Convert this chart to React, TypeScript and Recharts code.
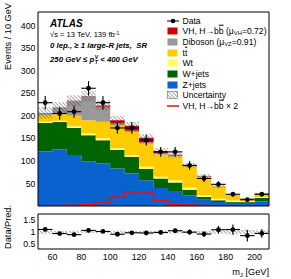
import { ComposedChart, Area, Line, Scatter, ErrorBar, XAxis, YAxis } from "recharts";
import type { ReactNode } from "react";

// binning in m_J [GeV]
const BIN_EDGES = [50, 60, 70, 80, 90, 100, 110, 120, 130, 140, 150, 160, 170, 180, 190, 200, 210];
const BIN_CENTERS = [55, 65, 75, 85, 95, 105, 115, 125, 135, 145, 155, 165, 175, 185, 195, 205];

// stacked backgrounds, events / bin
const ZJETS = [121, 126, 113, 99, 94, 83, 72, 57, 40, 33, 24, 14, 9, 7, 7, 10];
const WJETS = [63, 60, 60, 58, 52, 41, 37, 25, 21, 19, 12, 6, 4, 2, 2, 8];
const WT = [3, 3, 4, 4, 4, 4, 4, 5, 4, 5, 5, 4, 3, 3, 2, 2];
const TTBAR = [14, 15, 23, 29, 37, 50, 51, 51, 49, 53, 47, 41, 27, 11, 5, 7];
const DIBOSON = [5, 14, 33, 53, 33, 5, 3, 3, 3, 2, 1.5, 1, 0.5, 0.3, 0.2, 0.3];
const VH = [0.2, 0.4, 0.5, 1, 3, 7, 11, 10.5, 4.7, 1.5, 0.7, 0.4, 0.2, 0.2, 0.2, 0.2];
const VH_X2 = [0.5, 1, 1.5, 3, 9, 20, 31, 29, 13, 4, 2, 1, 0.5, 0.5, 0.5, 0.5];
const SYST = [13, 12, 12, 12, 11, 10, 9, 8, 7, 6, 5, 4, 3, 2, 1.5, 2];

const DATA = [229, 205, 209, 261, 229, 173, 173, 146, 120, 120, 90, 61, 48, 26, 14, 26];
const DATA_ERR = [15, 14, 14, 16, 15, 13, 13, 12, 11, 11, 9.5, 8, 7, 5, 4, 5];

const X_TICKS = [60, 80, 100, 120, 140, 160, 180, 200];
const Y_TICKS = [50, 100, 150, 200, 250, 300, 350, 400];
const RATIO_TICKS = [0.5, 1, 1.5];

const X_DOMAIN: [number, number] = [50, 210];
const Y_DOMAIN: [number, number] = [0, 430];
const R_DOMAIN: [number, number] = [0.3, 1.75];

const C_Z = "#0a62d0";
const C_W = "#006400";
const C_WT = "#ffff66";
const C_TT = "#ffcc00";
const C_DB = "#999999";
const C_VH = "#d00000";
const C_VH2 = "#e3101a";
const FONT = '"Liberation Sans", Arial, Helvetica, sans-serif';

function steps(from: number, to: number, step: number) {
  const out: number[] = [];
  for (let v = from; v <= to + 1e-9; v += step) out.push(Math.round(v * 1000) / 1000);
  return out;
}
const X_MINOR = steps(50, 210, 5);
const Y_MAJOR = steps(0, 400, 50);
const Y_MINOR = steps(0, 430, 10);
const R_MINOR = steps(0.3, 1.7, 0.1);

const TOTAL = BIN_CENTERS.map(
  (_, k) => ZJETS[k] + WJETS[k] + WT[k] + TTBAR[k] + DIBOSON[k] + VH[k]
);

// step rows at bin edges, last bin repeated so the step reaches 210
const histRows = BIN_EDGES.map((x, i) => {
  const k = Math.min(i, BIN_CENTERS.length - 1);
  return {
    x,
    zjets: ZJETS[k],
    wjets: WJETS[k],
    wt: WT[k],
    ttbar: TTBAR[k],
    diboson: DIBOSON[k],
    vh: VH[k],
    vh2: VH_X2[k],
    band: [TOTAL[k] - SYST[k], TOTAL[k] + SYST[k]],
    ratioBand: [1 - SYST[k] / TOTAL[k], 1 + SYST[k] / TOTAL[k]],
  };
});

const dataPoints = BIN_CENTERS.map((x, k) => ({
  x,
  y: DATA[k],
  err: DATA_ERR[k],
  xerr: (BIN_EDGES[k + 1] - BIN_EDGES[k]) / 2,
  ratio: DATA[k] / TOTAL[k],
  ratioErr: DATA_ERR[k] / TOTAL[k],
}));

const black = { stroke: "#000", strokeWidth: 1 };

// inward ticks on all four sides plus the frame
function frameAxes(yDomain: [number, number], yMajor: number[], yMinor: number[]) {
  const common = { allowDataOverflow: true, interval: 0 as const, tick: false, mirror: true, tickLine: black };
  return [
    <XAxis key="xb" xAxisId="xb" type="number" domain={X_DOMAIN} ticks={X_TICKS} orientation="bottom" tickSize={5} axisLine={black} {...common} />,
    <XAxis key="xbm" xAxisId="xbm" type="number" domain={X_DOMAIN} ticks={X_MINOR} orientation="bottom" tickSize={2.5} axisLine={false} {...common} />,
    <XAxis key="xt" xAxisId="xt" type="number" domain={X_DOMAIN} ticks={X_TICKS} orientation="top" tickSize={5} axisLine={black} {...common} />,
    <XAxis key="xtm" xAxisId="xtm" type="number" domain={X_DOMAIN} ticks={X_MINOR} orientation="top" tickSize={2.5} axisLine={false} {...common} />,
    <YAxis key="yl" yAxisId="yl" type="number" domain={yDomain} ticks={yMajor} orientation="left" tickSize={5} axisLine={black} {...common} />,
    <YAxis key="ylm" yAxisId="ylm" type="number" domain={yDomain} ticks={yMinor} orientation="left" tickSize={2.5} axisLine={false} {...common} />,
    <YAxis key="yr" yAxisId="yr" type="number" domain={yDomain} ticks={yMajor} orientation="right" tickSize={5} axisLine={black} {...common} />,
    <YAxis key="yrm" yAxisId="yrm" type="number" domain={yDomain} ticks={yMinor} orientation="right" tickSize={2.5} axisLine={false} {...common} />,
  ];
}

function hatch(id: string) {
  return (
    <defs>
      <pattern id={id} patternUnits="userSpaceOnUse" width={2.6} height={2.6} patternTransform="rotate(-45)">
        <line x1={0} y1={0} x2={0} y2={2.6} stroke="#444" strokeWidth={0.9} />
      </pattern>
    </defs>
  );
}

const dot = (p: any) => <circle cx={p.cx} cy={p.cy} r={2.4} fill="#000" />;
const tickFont = { fontSize: 8.8, fill: "#000", fontFamily: FONT };

function Txt({ x, y, size, children, style }: { x: number; y: number; size: number; children: ReactNode; style?: any }) {
  return (
    <div
      style={{
        position: "absolute",
        left: x,
        top: y,
        fontSize: size,
        lineHeight: 1,
        whiteSpace: "nowrap",
        transform: "translateY(-50%)",
        ...style,
      }}
    >
      {children}
    </div>
  );
}

function VTitle({ xc, top, size, children }: { xc: number; top: number; size: number; children: ReactNode }) {
  return (
    <div
      style={{
        position: "absolute",
        right: 291 - xc,
        top,
        fontSize: size,
        lineHeight: 1,
        whiteSpace: "nowrap",
        transformOrigin: "100% 50%",
        transform: "translateY(-50%) rotate(-90deg)",
      }}
    >
      {children}
    </div>
  );
}

const sub = (s: string) => (
  <sub style={{ fontSize: "0.68em", verticalAlign: "-0.3em", lineHeight: 0 }}>{s}</sub>
);
const sup = (s: string) => (
  <sup style={{ fontSize: "0.68em", verticalAlign: "0.45em", lineHeight: 0 }}>{s}</sup>
);
const bar = (s: string) => <span style={{ textDecoration: "overline" }}>{s}</span>;

type Swatch = "data" | "hatch" | "line" | string;
const LEGEND: { swatch: Swatch; label: ReactNode }[] = [
  { swatch: "data", label: "Data" },
  { swatch: C_VH, label: <>VH, H→b{bar("b")} (μ{sub("VH")}=0.72)</> },
  { swatch: C_DB, label: <>Diboson (μ{sub("VZ")}=0.91)</> },
  { swatch: C_TT, label: <>t{bar("t")}</> },
  { swatch: C_WT, label: "Wt" },
  { swatch: C_W, label: "W+jets" },
  { swatch: C_Z, label: "Z+jets" },
  { swatch: "hatch", label: "Uncertainty" },
  { swatch: "line", label: <>VH, H→b{bar("b")} × 2</> },
];

function SwatchIcon({ kind }: { kind: Swatch }) {
  return (
    <svg width={12} height={8} style={{ display: "block" }}>
      {kind === "data" && (
        <>
          <line x1={0} y1={4} x2={12} y2={4} stroke="#000" strokeWidth={1} />
          <circle cx={6} cy={4} r={2.3} fill="#000" />
        </>
      )}
      {kind === "line" && <line x1={0} y1={4} x2={12} y2={4} stroke={C_VH2} strokeWidth={1.5} />}
      {kind === "hatch" && <rect x={0.5} y={0.5} width={10} height={7} fill="url(#hatchLeg)" stroke="#666" strokeWidth={0.6} />}
      {kind !== "data" && kind !== "line" && kind !== "hatch" && (
        <rect x={0.5} y={0.5} width={10} height={7} fill={kind} />
      )}
    </svg>
  );
}

export default function App() {
  return (
    <div style={{ position: "relative", width: 291, height: 279, fontFamily: FONT, color: "#000", background: "#fff" }}>
      <style>{"body{margin:0}"}</style>
      <svg width={0} height={0} style={{ position: "absolute" }}>
        {hatch("hatchLeg")}
      </svg>

      <div style={{ position: "absolute", left: 0, top: 0 }}>
        <ComposedChart width={291} height={210} data={histRows} margin={{ top: 12, right: 22, bottom: 4, left: 0 }}>
          {hatch("hatchMain")}
          <XAxis dataKey="x" type="number" domain={X_DOMAIN} allowDataOverflow hide />
          <YAxis
            type="number"
            domain={Y_DOMAIN}
            ticks={Y_TICKS}
            allowDataOverflow
            interval={0}
            width={38}
            tickLine={false}
            axisLine={false}
            tickSize={0}
            tickMargin={2.5}
            tick={tickFont}
          />
          {frameAxes(Y_DOMAIN, Y_MAJOR, Y_MINOR)}
          <Area type="stepAfter" dataKey="zjets" stackId="mc" fill={C_Z} fillOpacity={1} stroke="none" isAnimationActive={false} />
          <Area type="stepAfter" dataKey="wjets" stackId="mc" fill={C_W} fillOpacity={1} stroke="none" isAnimationActive={false} />
          <Area type="stepAfter" dataKey="wt" stackId="mc" fill={C_WT} fillOpacity={1} stroke="none" isAnimationActive={false} />
          <Area type="stepAfter" dataKey="ttbar" stackId="mc" fill={C_TT} fillOpacity={1} stroke="none" isAnimationActive={false} />
          <Area type="stepAfter" dataKey="diboson" stackId="mc" fill={C_DB} fillOpacity={1} stroke="none" isAnimationActive={false} />
          <Area type="stepAfter" dataKey="vh" stackId="mc" fill={C_VH} fillOpacity={1} stroke="none" isAnimationActive={false} />
          <Area type="stepAfter" dataKey="band" fill="url(#hatchMain)" fillOpacity={1} stroke="none" isAnimationActive={false} />
          <Line type="stepAfter" dataKey="vh2" stroke={C_VH2} strokeWidth={1.5} dot={false} isAnimationActive={false} />
          <Scatter data={dataPoints} dataKey="y" shape={dot} isAnimationActive={false}>
            <ErrorBar dataKey="err" direction="y" width={0} stroke="#000" strokeWidth={1.1} isAnimationActive={false} />
            <ErrorBar dataKey="xerr" direction="x" width={0} stroke="#000" strokeWidth={1.1} isAnimationActive={false} />
          </Scatter>
        </ComposedChart>
      </div>

      <div style={{ position: "absolute", left: 0, top: 210 }}>
        <ComposedChart width={291} height={69} data={histRows} margin={{ top: 4, right: 22, bottom: 0, left: 0 }}>
          {hatch("hatchRatio")}
          <XAxis
            dataKey="x"
            type="number"
            domain={X_DOMAIN}
            ticks={X_TICKS}
            allowDataOverflow
            interval={0}
            height={30}
            tickLine={false}
            axisLine={false}
            tickSize={0}
            tickMargin={4.5}
            tick={tickFont}
          />
          <YAxis
            type="number"
            domain={R_DOMAIN}
            ticks={RATIO_TICKS}
            allowDataOverflow
            interval={0}
            width={38}
            tickLine={false}
            axisLine={false}
            tickSize={0}
            tickMargin={2.5}
            tick={tickFont}
          />
          {frameAxes(R_DOMAIN, RATIO_TICKS, R_MINOR)}
          <Area type="stepAfter" dataKey="ratioBand" fill="url(#hatchRatio)" fillOpacity={1} stroke="none" isAnimationActive={false} />
          <Scatter data={dataPoints} dataKey="ratio" shape={dot} isAnimationActive={false}>
            <ErrorBar dataKey="ratioErr" direction="y" width={0} stroke="#000" strokeWidth={1.1} isAnimationActive={false} />
            <ErrorBar dataKey="xerr" direction="x" width={0} stroke="#000" strokeWidth={1.1} isAnimationActive={false} />
          </Scatter>
        </ComposedChart>
      </div>

      {/* labels */}
      <Txt x={50} y={24} size={10} style={{ fontWeight: 700, fontStyle: "italic" }}>ATLAS</Txt>
      <Txt x={50} y={34.5} size={7.6}>
        √s = 13 TeV, 139 fb{sup("-1")}
      </Txt>
      <Txt x={50} y={45.7} size={7.8} style={{ fontWeight: 700, fontStyle: "italic" }}>
        0 lep., ≥ 1 large-R jets,&nbsp; SR
      </Txt>
      <Txt x={50} y={60} size={7.8} style={{ fontWeight: 700, fontStyle: "italic" }}>
        250 GeV ≤ p
        <span style={{ display: "inline-flex", flexDirection: "column", fontSize: "0.65em", lineHeight: 0.95, verticalAlign: "middle", marginLeft: 0.5 }}>
          <span>V</span>
          <span>T</span>
        </span>{" "}
        &lt; 400 GeV
      </Txt>

      {LEGEND.map((e, i) => (
        <div key={i}>
          <div style={{ position: "absolute", left: 167, top: 20.5 + i * 10.7 - 4 }}>
            <SwatchIcon kind={e.swatch} />
          </div>
          <Txt x={182.5} y={20.5 + i * 10.7} size={8.6}>
            {e.label}
          </Txt>
        </div>
      ))}

      <VTitle xc={9} top={3} size={9.2}>Events / 10 GeV</VTitle>
      <VTitle xc={8.5} top={205} size={9.2}>Data/Pred.</VTitle>
      <div style={{ position: "absolute", right: 291 - 269, top: 273, fontSize: 9.2, lineHeight: 1, transform: "translateY(-50%)", whiteSpace: "nowrap" }}>
        m{sub("J")} [GeV]
      </div>
    </div>
  );
}
